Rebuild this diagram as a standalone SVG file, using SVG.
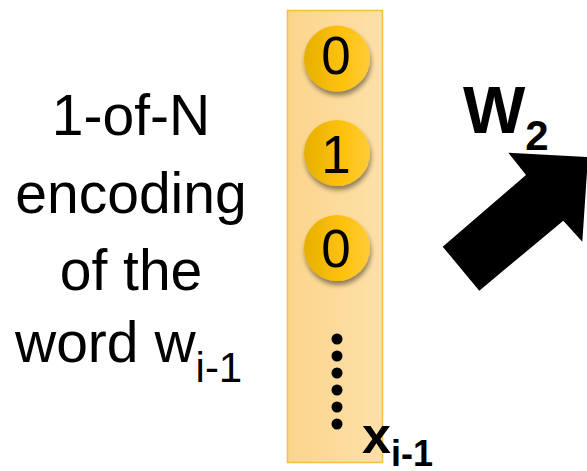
<svg xmlns="http://www.w3.org/2000/svg" width="587" height="471" viewBox="0 0 587 471">
  <defs>
    <linearGradient id="colGrad" x1="0" y1="0" x2="1" y2="0">
      <stop offset="0" stop-color="#fcd58c"/>
      <stop offset="1" stop-color="#fde0a8"/>
    </linearGradient>
    <linearGradient id="ballGrad" x1="0" y1="0" x2="1" y2="0">
      <stop offset="0" stop-color="#e6b000"/>
      <stop offset="0.6" stop-color="#ffc20e"/>
      <stop offset="1" stop-color="#ffcb3a"/>
    </linearGradient>
    <filter id="shadow" x="-30%" y="-30%" width="160%" height="170%">
      <feGaussianBlur in="SourceAlpha" stdDeviation="2.5"/>
      <feOffset dx="1" dy="4" result="b"/>
      <feComponentTransfer><feFuncA type="linear" slope="0.45"/></feComponentTransfer>
      <feMerge><feMergeNode/><feMergeNode in="SourceGraphic"/></feMerge>
    </filter>
  </defs>
  <style>
    .lbl { font-family: "Liberation Sans", Arial, sans-serif; font-size: 57px; fill: #000; }
    .bit { font-family: "Liberation Sans", Arial, sans-serif; font-size: 53px; fill: #000; text-anchor: middle; }
    .bold { font-family: "Liberation Sans", Arial, sans-serif; font-weight: bold; fill: #000; }
    .ball { fill: url(#ballGrad); filter: url(#shadow); }
    .dot { fill: #000; }
  </style>

  <g id="label">
    <text class="lbl" x="131" y="135" text-anchor="middle">1-of-N</text>
    <text class="lbl" x="131" y="213" text-anchor="middle">encoding</text>
    <text class="lbl" x="131" y="290" text-anchor="middle">of the</text>
    <text class="lbl" x="15" y="362">word w<tspan font-size="42" dy="20">i-1</tspan></text>
  </g>

  <g id="vector">
    <rect x="287.5" y="10.5" width="95" height="452" fill="url(#colGrad)" stroke="#f5c040" stroke-width="1.5"/>
    <g id="bit0">
      <circle class="ball" cx="337" cy="58.5" r="33"/>
      <text class="bit" x="336" y="74">0</text>
    </g>
    <g id="bit1">
      <circle class="ball" cx="337" cy="153" r="33"/>
      <text class="bit" x="336" y="173">1</text>
    </g>
    <g id="bit2">
      <circle class="ball" cx="337" cy="248" r="33"/>
      <text class="bit" x="336" y="267">0</text>
    </g>
    <g id="dots">
      <circle class="dot" cx="337" cy="339" r="5.5"/>
      <circle class="dot" cx="337" cy="356" r="5.5"/>
      <circle class="dot" cx="337" cy="373" r="5.5"/>
      <circle class="dot" cx="337" cy="390" r="5.5"/>
      <circle class="dot" cx="337" cy="407" r="5.5"/>
      <circle class="dot" cx="337" cy="424" r="5.5"/>
    </g>
  </g>

  <g id="xlabel">
    <text class="bold" x="362" y="453" font-size="52">x<tspan font-size="36" dy="13">i-1</tspan></text>
  </g>

  <g id="connectors">
    <polygon points="442.7,246.7 479.3,290.7 563.3,220.7 582.3,241.7 588,157 508.3,152.7 526,175" fill="#000"/>
  </g>

  <g id="w2label">
    <text class="bold" x="463" y="133" font-size="66">W<tspan font-size="42" dy="17">2</tspan></text>
  </g>
</svg>
